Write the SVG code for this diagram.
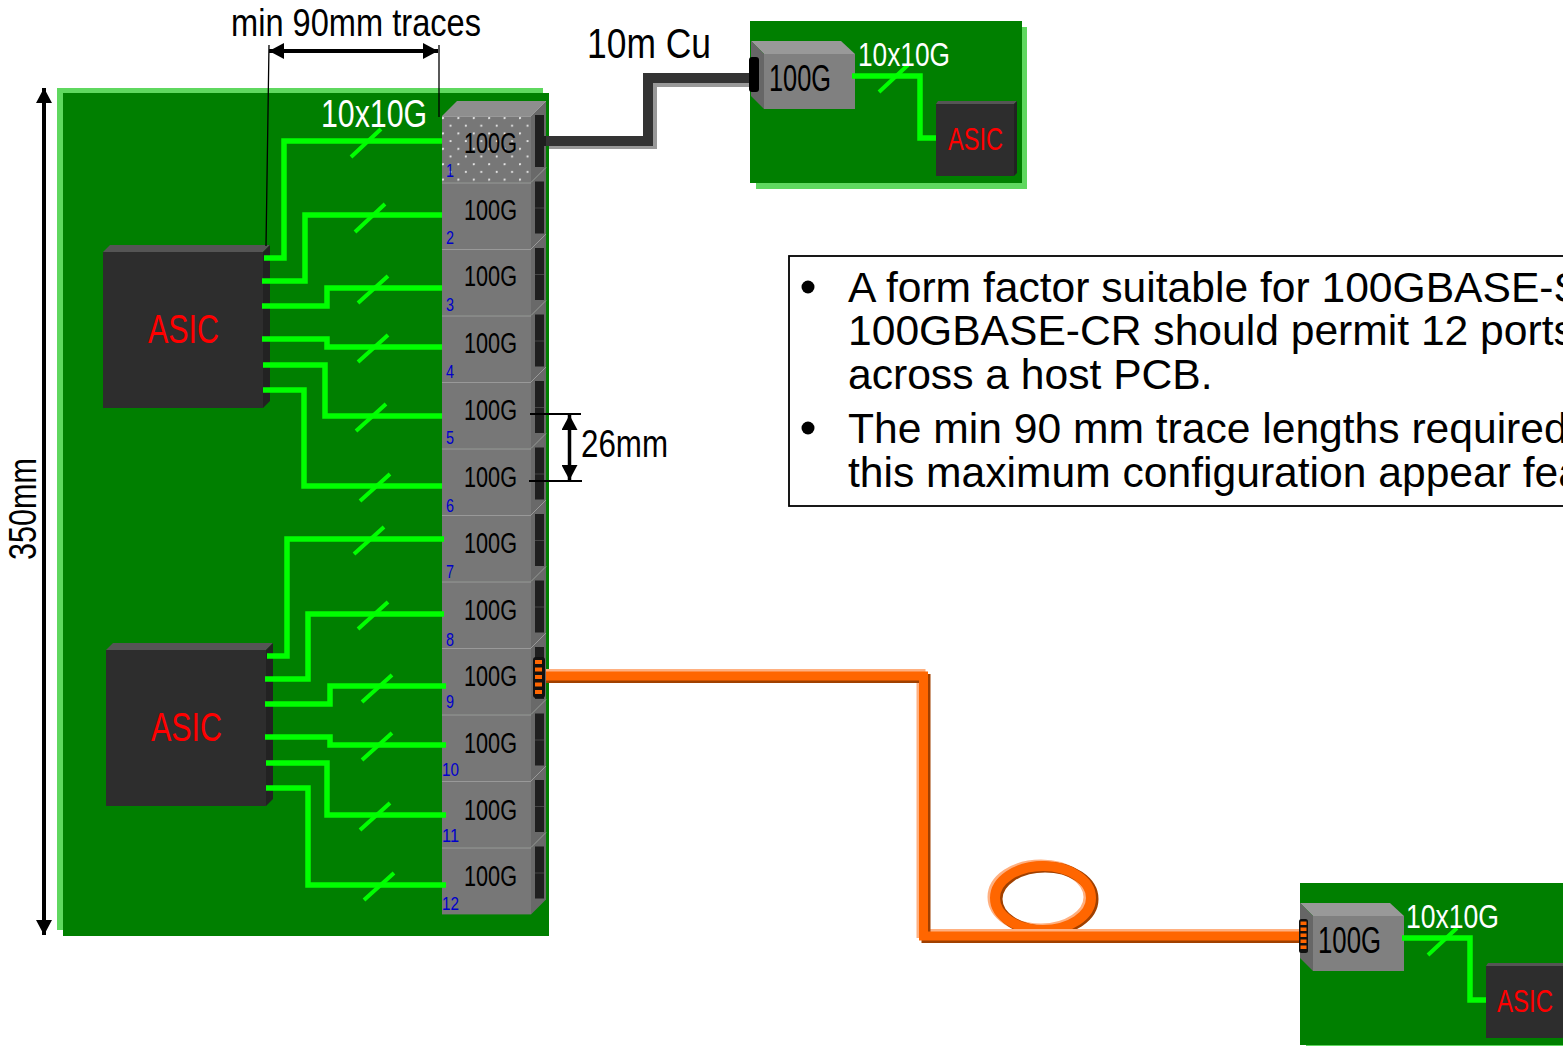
<svg xmlns="http://www.w3.org/2000/svg" xmlns:xlink="http://www.w3.org/1999/xlink" width="1563" height="1046" viewBox="0 0 1563 1046">
<style>
text{font-family:"Liberation Sans",Arial,sans-serif}
.hl{fill:#5fd85f}.pcb{fill:#007f00}
.tr{fill:none;stroke:#00ff00;stroke-width:5.5;stroke-linejoin:miter}
.sl{stroke:#00ff00;stroke-width:4;fill:none}
.k28{font-size:30px;fill:#000}
.k33{font-size:36px;fill:#000}
.num{font-size:19px;fill:#0000cc}
.dim{font-size:38px;fill:#000}
.a1{font-size:40px;fill:#f00}
.a2{font-size:31px;fill:#f00}
.s10{font-size:33px;fill:#fff}
.ext{stroke:#000;stroke-width:1.3;fill:none}
.ar{stroke:#000;fill:none}
.body{font-size:42.6px;fill:#000}
</style>
<defs>
<pattern id="dots" width="15.4" height="15.4" patternUnits="userSpaceOnUse" x="442" y="116">
<circle cx="1" cy="2" r="1.1" fill="#eee"/><circle cx="8.5" cy="9.7" r="1.1" fill="#eee"/>
</pattern>
<marker id="h" viewBox="0 0 15 16" refX="15" refY="8" markerWidth="15" markerHeight="16" markerUnits="userSpaceOnUse" orient="auto-start-reverse"><path d="M0 0L15 8L0 16Z" fill="#000"/></marker>
<g id="asic">
<path d="M0 7L7 0H167L160 7Z" fill="#555"/>
<path d="M160 7L167 0V156L160 163Z" fill="#222"/>
<rect x="0" y="7" width="160" height="156" fill="#2d2d2d"/>
</g>
<g id="mod">
<path d="M89 0L104 -15V52L89 67Z" fill="#696969"/>
<rect x="0" y="0" width="89" height="66.900" fill="#777"/>
<path d="M0 0.500H89" stroke="#999" stroke-width="1.200"/>
<path d="M89 0L104 -15" stroke="#999" stroke-width="1"/>
<rect x="93" y="-1" width="9" height="52" fill="#1f1f1f"/>
<path d="M93 25.500H102" stroke="#444" stroke-width="1"/>
</g>
<g id="smod">
<path d="M0 0H90L104 13H13Z" fill="#999"/>
<path d="M0 0L13 13V68L0 55Z" fill="#666"/>
<rect x="13" y="13" width="91" height="55" fill="#808080"/>
</g>
<g id="smallasic">
<path d="M2 0H81L78 3H0Z" fill="#555"/>
<path d="M78 3L81 0V72L78 75Z" fill="#222"/>
<rect x="0" y="3" width="78" height="72" fill="#2d2d2d"/>
</g>
</defs>

<g id="board-main">
<rect class="hl" x="57" y="88" width="486" height="842"/>
<rect class="pcb" x="63" y="93" width="486" height="843"/>
</g>
<g id="board-cu">
<rect class="hl" x="756" y="27" width="271" height="162"/>
<rect class="pcb" x="750" y="21" width="272" height="162"/>
</g>
<g id="board-fiber">
<rect class="hl" x="1306" y="889" width="257" height="157"/>
<rect class="pcb" x="1300" y="883" width="263" height="162"/>
</g>

<g id="asic-1"><use xlink:href="#asic" href="#asic" x="103" y="245"/><text class="a1" x="148" y="343" textLength="71" lengthAdjust="spacingAndGlyphs">ASIC</text></g>
<g id="asic-2"><use xlink:href="#asic" href="#asic" x="106" y="643"/><text class="a1" x="151" y="741" textLength="71" lengthAdjust="spacingAndGlyphs">ASIC</text></g>

<g id="modules">
<path d="M442 116L457 101H546L531 116Z" fill="#8e8e8e"/>
<g id="module-1"><use href="#mod" x="442" y="116"/><rect x="442" y="116" width="89" height="66" fill="url(#dots)"/><text class="k28" x="464" y="153" textLength="53" lengthAdjust="spacingAndGlyphs">100G</text><text class="num" x="446" y="177" textLength="8" lengthAdjust="spacingAndGlyphs">1</text></g>
<g id="module-2"><use href="#mod" x="442" y="182.500"/><text class="k28" x="464" y="220" textLength="53" lengthAdjust="spacingAndGlyphs">100G</text><text class="num" x="446" y="244" textLength="8" lengthAdjust="spacingAndGlyphs">2</text></g>
<g id="module-3"><use href="#mod" x="442" y="249"/><text class="k28" x="464" y="286" textLength="53" lengthAdjust="spacingAndGlyphs">100G</text><text class="num" x="446" y="311" textLength="8" lengthAdjust="spacingAndGlyphs">3</text></g>
<g id="module-4"><use href="#mod" x="442" y="315.500"/><text class="k28" x="464" y="353" textLength="53" lengthAdjust="spacingAndGlyphs">100G</text><text class="num" x="446" y="378" textLength="8" lengthAdjust="spacingAndGlyphs">4</text></g>
<g id="module-5"><use href="#mod" x="442" y="382"/><text class="k28" x="464" y="420" textLength="53" lengthAdjust="spacingAndGlyphs">100G</text><text class="num" x="446" y="444" textLength="8" lengthAdjust="spacingAndGlyphs">5</text></g>
<g id="module-6"><use href="#mod" x="442" y="448.500"/><text class="k28" x="464" y="487" textLength="53" lengthAdjust="spacingAndGlyphs">100G</text><text class="num" x="446" y="512" textLength="8" lengthAdjust="spacingAndGlyphs">6</text></g>
<g id="module-7"><use href="#mod" x="442" y="515"/><text class="k28" x="464" y="553" textLength="53" lengthAdjust="spacingAndGlyphs">100G</text><text class="num" x="446" y="578" textLength="8" lengthAdjust="spacingAndGlyphs">7</text></g>
<g id="module-8"><use href="#mod" x="442" y="581.500"/><text class="k28" x="464" y="620" textLength="53" lengthAdjust="spacingAndGlyphs">100G</text><text class="num" x="446" y="646" textLength="8" lengthAdjust="spacingAndGlyphs">8</text></g>
<g id="module-9"><use href="#mod" x="442" y="648"/><text class="k28" x="464" y="686" textLength="53" lengthAdjust="spacingAndGlyphs">100G</text><text class="num" x="446" y="708" textLength="8" lengthAdjust="spacingAndGlyphs">9</text></g>
<g id="module-10"><use href="#mod" x="442" y="714.500"/><text class="k28" x="464" y="753" textLength="53" lengthAdjust="spacingAndGlyphs">100G</text><text class="num" x="442" y="776" textLength="17" lengthAdjust="spacingAndGlyphs">10</text></g>
<g id="module-11"><use href="#mod" x="442" y="781"/><text class="k28" x="464" y="820" textLength="53" lengthAdjust="spacingAndGlyphs">100G</text><text class="num" x="442" y="842" textLength="17" lengthAdjust="spacingAndGlyphs">11</text></g>
<g id="module-12"><use href="#mod" x="442" y="847.500"/><text class="k28" x="464" y="886" textLength="53" lengthAdjust="spacingAndGlyphs">100G</text><text class="num" x="442" y="910" textLength="17" lengthAdjust="spacingAndGlyphs">12</text></g>
</g>

<g id="module-cu">
<use href="#smod" x="751" y="41"/>
<text class="k33" x="769" y="91" textLength="62" lengthAdjust="spacingAndGlyphs">100G</text>
</g>
<g id="asic-cu">
<use href="#smallasic" x="936" y="101"/>
<text class="a2" x="948" y="150" textLength="55" lengthAdjust="spacingAndGlyphs">ASIC</text>
</g>
<g id="module-fiber">
<use href="#smod" x="1300" y="903"/>
<text class="k33" x="1318" y="953" textLength="63" lengthAdjust="spacingAndGlyphs">100G</text>
</g>
<g id="asic-fiber">
<use href="#smallasic" x="1486" y="963"/>
<text class="a2" x="1497" y="1012" textLength="56" lengthAdjust="spacingAndGlyphs">ASIC</text>
</g>

<g id="connectors">
<g id="traces">
<path class="tr" d="M264 258H284V141H442"/>
<path class="tr" d="M262 281H305V215H442"/>
<path class="tr" d="M262 306H327V288H442"/>
<path class="tr" d="M262 339H327V347H442"/>
<path class="tr" d="M263 365H325V416H442"/>
<path class="tr" d="M263 390H304V486H442"/>
<path class="tr" d="M267 656H287V539H444"/>
<path class="tr" d="M265 679H308V614H444"/>
<path class="tr" d="M265 704H330V686H446"/>
<path class="tr" d="M265 737H330V745H446"/>
<path class="tr" d="M266 763H327V815H446"/>
<path class="tr" d="M266 788H308V885H446"/>
<path class="tr" d="M852 76H920V138H936"/>
<path class="tr" d="M1402 938H1470V1000H1486"/>
<path class="sl" d="M351 157L381 129M355 232L385 204M358 303L388 276M358 362L388 335M356 431L386 404M360 501L390 474M354 554L384 527M358 629L388 602M362 702L392 675M362 760L392 733M360 830L390 803M364 900L394 873M879 92L908 65M1428 955L1457 928"/>
</g>
<g id="cable-cu" fill="none" stroke-linejoin="miter">
<path d="M549 144H652V82H750" stroke="#999" stroke-width="10"/>
<path d="M546 141H648V78H750" stroke="#333" stroke-width="10"/>
<rect x="535" y="136" width="11" height="10" fill="#1f1f1f"/>
<rect x="749" y="57" width="10" height="35" rx="3" fill="#000"/>
</g>
<g id="cable-fiber" fill="none" stroke-linejoin="miter">
<ellipse cx="1041" cy="897" rx="48" ry="32" stroke="#ffb080" stroke-width="11"/>
<ellipse cx="1045" cy="899" rx="48" ry="32" stroke="#a04000" stroke-width="11"/>
<ellipse cx="1043" cy="898" rx="48" ry="32" stroke="#ff6600" stroke-width="10"/>
<path d="M546 673.500H921V933.500H1300" stroke="#ffb080" stroke-width="9"/>
<path d="M546 678.500H926V938.500H1300" stroke="#a04000" stroke-width="9"/>
<path d="M546 676H923.500V936H1300" stroke="#ff6600" stroke-width="9"/>
<g id="conn-a">
<rect x="533" y="657" width="12" height="41" rx="3" fill="#111"/>
<path d="M535 660h7v4h-7zM535 667.500h7v4h-7zM535 675h7v4h-7zM535 682.500h7v4h-7zM535 690h7v4h-7z" fill="#ff6600"/>
</g>
<g id="conn-b">
<rect x="1299" y="919" width="9" height="34" rx="2.500" fill="#111"/>
<path d="M1300.500 921.500h6v3.500h-6zM1300.500 927.500h6v3.500h-6zM1300.500 933.500h6v3.500h-6zM1300.500 939.500h6v3.500h-6zM1300.500 945.500h6v3.500h-6z" fill="#ff6600"/>
</g>
</g>
<g id="dimensions">
<path class="ext" d="M269 45L266 246M439 45V117"/>
<path class="ar" stroke-width="4" d="M269 51H438" marker-start="url(#h)" marker-end="url(#h)"/>
<path class="ar" stroke-width="2" d="M530 414H581M529 481H582"/>
<path class="ar" stroke-width="3.500" d="M569.500 415V480" marker-start="url(#h)" marker-end="url(#h)"/>
<path class="ar" stroke-width="4" d="M44 88V935" marker-start="url(#h)" marker-end="url(#h)"/>
</g>
</g>

<g id="labels">
<text class="dim" x="231" y="36" textLength="250" lengthAdjust="spacingAndGlyphs">min 90mm traces</text>
<text class="dim" x="587" y="58" style="font-size:43px" textLength="124" lengthAdjust="spacingAndGlyphs">10m Cu</text>
<text class="dim" x="321" y="127" style="fill:#fff" textLength="106" lengthAdjust="spacingAndGlyphs">10x10G</text>
<text class="s10" x="858" y="66" textLength="92" lengthAdjust="spacingAndGlyphs">10x10G</text>
<text class="s10" x="1406" y="928" textLength="93" lengthAdjust="spacingAndGlyphs">10x10G</text>
<text class="dim" x="581" y="457" textLength="87" lengthAdjust="spacingAndGlyphs">26mm</text>
<text class="dim" transform="translate(36 560) rotate(-90)" textLength="102" lengthAdjust="spacingAndGlyphs">350mm</text>
</g>

<g id="note">
<rect x="789" y="256" width="800" height="250" fill="none" stroke="#000" stroke-width="1.800"/>
<circle cx="808" cy="287" r="6.500" fill="#000"/>
<circle cx="808" cy="428" r="6.500" fill="#000"/>
<text class="body" x="848" y="302">A form factor suitable for 100GBASE-S</text>
<text class="body" x="848" y="345">100GBASE-CR should permit 12 ports</text>
<text class="body" x="848" y="389">across a host PCB.</text>
<text class="body" x="848" y="443">The min 90 mm trace lengths required</text>
<text class="body" x="848" y="487">this maximum configuration appear fea</text>
</g>
</svg>
